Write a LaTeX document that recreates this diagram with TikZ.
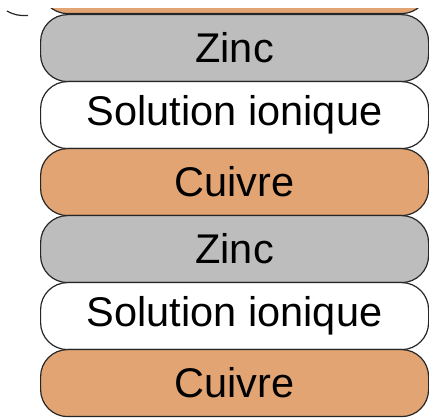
\documentclass[tikz,border=0pt]{standalone}
\usepackage{fontspec}
\setmainfont{Liberation Sans}
\definecolor{zincgray}{HTML}{BDBDBD}
\definecolor{copper}{HTML}{E2A473}
\tikzset{
  layer/.style={draw=black!85, line width=1.2pt, rounded corners=27pt,
    minimum width=388pt, minimum height=67pt, inner sep=0pt,
    font=\fontsize{41.5}{41.5}\selectfont, anchor=north west},
  zinc/.style={layer, fill=zincgray},
  sol/.style={layer, fill=white},
  cu/.style={layer, fill=copper}
}
\begin{document}
\begin{tikzpicture}[x=1pt, y=-1pt]
  \useasboundingbox (0,0) rectangle (429,419);
  \clip (0,0) rectangle (429,419);
  % only the bottom edge of the first copper layer shows
  \begin{scope}
    \clip (0,9) rectangle (429,20);
    \node[cu] (cu0) at (40,-54) {};
  \end{scope}
  % cell stack, top to bottom
  \node[zinc] (zn1)  at (40,14)  {Zinc};
  \node[sol]  (s1)   at (40,81)  {Solution ionique};
  \node[cu]   (cu1)  at (40,148) {Cuivre};
  \node[zinc] (zn2)  at (40,215) {Zinc};
  \node[sol]  (s2)   at (40,282) {Solution ionique};
  \node[cu]   (cu2)  at (40,349) {Cuivre};
  % stray stroke at the top left
  \draw[black!85, line width=1.2pt] (7,11) .. controls (14,15) and (20,16) .. (28,15.5);
\end{tikzpicture}
\end{document}
